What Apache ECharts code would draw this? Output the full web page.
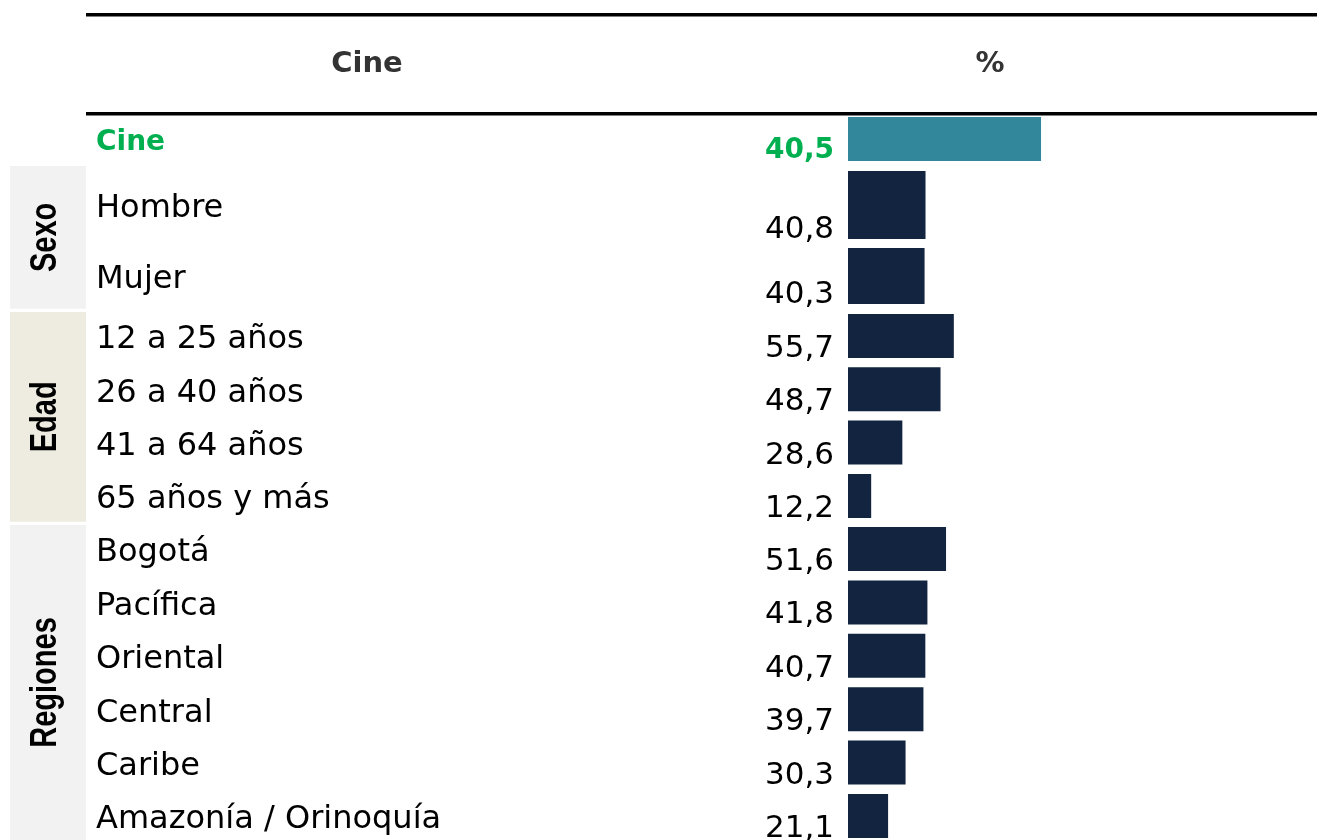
<!DOCTYPE html>
<html>
<head>
<meta charset="utf-8">
<title>Cine</title>
<script src="https://cdn.jsdelivr.net/npm/echarts@6/dist/echarts.min.js"></script>
<style>
  html, body { margin: 0; padding: 0; background: #fff; }
  #chart { width: 1317px; height: 840px; }
</style>
</head>
<body>
<div id="chart"></div>
<script>
// data
const totalCat = ['Cine'];
const totalVal = [40.5];
const sexoCats = ['Hombre', 'Mujer'];
const sexoVals = [40.8, 40.3];
const edadCats = ['12 a 25 años', '26 a 40 años', '41 a 64 años', '65 años y más'];
const edadVals = [55.7, 48.7, 28.6, 12.2];
const regionCats = ['Bogotá', 'Pacífica', 'Oriental', 'Central', 'Caribe', 'Amazonía / Orinoquía'];
const regionVals = [51.6, 41.8, 40.7, 39.7, 30.3, 21.1];
const groupNames = ['Sexo', 'Edad', 'Regiones'];
const headers = ['Cine', '%'];

const NAVY = '#12243f';
const TEAL = '#32879b';
const GREEN = '#00b050';
const FONT = 'DejaVu Sans';
const BAR_X = 848;

const fmt = v => v.toFixed(1).replace('.', ',');

const chart = echarts.init(document.getElementById('chart'));

// one block = one grid; top/height/barWidth are layout only
const blocks = [
    { cats: totalCat, vals: totalVal, top: 117, height: 44, bar: 44, max: 60, width: 286, total: true },
    { cats: [sexoCats[0]], vals: [sexoVals[0]], top: 171, height: 68, bar: 68 },
    { cats: [sexoCats[1]], vals: [sexoVals[1]], top: 248, height: 56, bar: 56 },
    { cats: edadCats, vals: edadVals, top: 309.3, height: 213.3, bar: 44 },
    { cats: regionCats, vals: regionVals, top: 522.3, height: 320.4, bar: 44 }
];

const grid = [], xAxis = [], yAxis = [], series = [];
blocks.forEach((b, i) => {
    grid.push({ left: BAR_X, top: b.top, width: b.width || 190, height: b.height, outerBoundsMode: 'none' });
    xAxis.push({ gridIndex: i, type: 'value', min: 0, max: b.max || 100, show: false });
    yAxis.push({
        gridIndex: i,
        type: 'category',
        inverse: true,
        data: b.cats,
        axisLine: { show: false },
        axisTick: { show: false },
        splitLine: { show: false },
        axisLabel: {
            align: 'left',
            margin: BAR_X - 96,
            formatter: v => '{t|' + v + '}',
            rich: {
                t: {
                    padding: [8, 0, 0, 0],
                    fontFamily: FONT,
                    fontSize: b.total ? 28 : 32,
                    fontWeight: b.total ? 'bold' : 'normal',
                    color: b.total ? GREEN : '#000'
                }
            }
        }
    });
    series.push({
        type: 'bar',
        xAxisIndex: i,
        yAxisIndex: i,
        data: b.vals,
        barWidth: b.bar,
        itemStyle: { color: b.total ? TEAL : NAVY },
        label: {
            show: true,
            position: [-14, '100%'],
            align: 'right',
            verticalAlign: 'middle',
            offset: [0, b.total ? -10 : -9],
            fontFamily: FONT,
            fontSize: b.total ? 28 : 31,
            fontWeight: b.total ? 'bold' : 'normal',
            color: b.total ? GREEN : '#000',
            formatter: p => fmt(p.value)
        },
        silent: true,
        animation: false
    });
});

// side group boxes
const boxes = [
    { name: groupNames[0], y: 166, h: 142.7, fill: '#f2f2f2' },
    { name: groupNames[1], y: 312, h: 209.7, fill: '#eeece1' },
    { name: groupNames[2], y: 525, h: 315, fill: '#f2f2f2' }
];

const graphic = [
    { type: 'rect', shape: { x: 86, y: 13, width: 1231, height: 3.5 }, style: { fill: '#000' } },
    { type: 'rect', shape: { x: 86, y: 112, width: 1231, height: 3.5 }, style: { fill: '#000' } },
    { type: 'text', x: 367, y: 64, style: { text: headers[0], font: 'bold 29px "' + FONT + '"', fill: '#333', align: 'center', verticalAlign: 'middle' } },
    { type: 'text', x: 990, y: 64, style: { text: headers[1], font: 'bold 29px "' + FONT + '"', fill: '#333', align: 'center', verticalAlign: 'middle' } }
];
boxes.forEach(b => {
    graphic.push({ type: 'rect', z: 0, shape: { x: 10, y: b.y, width: 76, height: b.h }, style: { fill: b.fill } });
    graphic.push({
        type: 'text', z: 1,
        x: 46, y: b.y + b.h / 2,
        rotation: Math.PI / 2,
        scaleY: 1.3,
        style: { text: b.name, font: 'bold 29px "Liberation Sans"', fill: '#000', align: 'center', verticalAlign: 'middle' }
    });
});

chart.setOption({
    animation: false,
    grid: grid,
    xAxis: xAxis,
    yAxis: yAxis,
    series: series,
    graphic: graphic
});
</script>
</body>
</html>
